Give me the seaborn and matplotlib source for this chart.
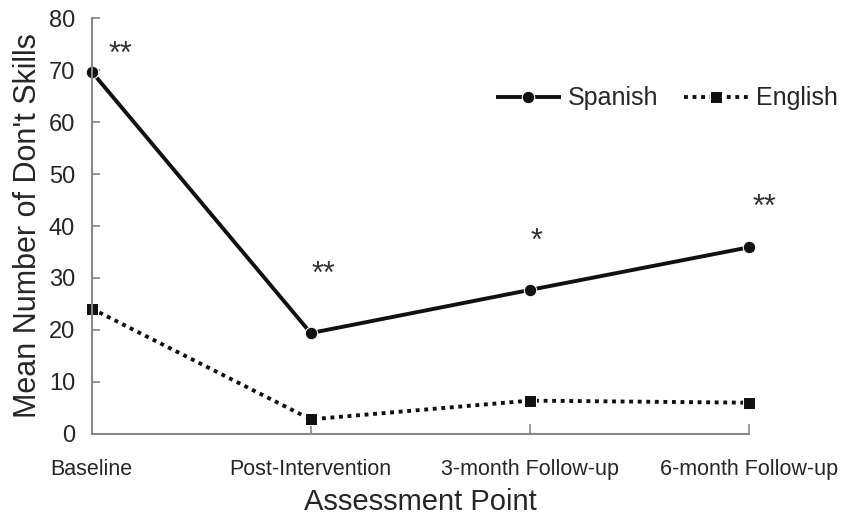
import pandas as pd
import numpy as np
import matplotlib.pyplot as plt
import seaborn as sns

sns.set_style("white")
plt.rcParams['font.family'] = ['Liberation Sans', 'DejaVu Sans']

# データ
assessment_points = ["Baseline", "Post-Intervention", "3-month Follow-up", "6-month Follow-up"]
spanish_means = [69.7, 19.4, 27.7, 35.9]
english_means = [24.1, 2.8, 6.4, 6.0]
significance = ["**", "**", "*", "**"]
sig_heights = [73.0, 30.5, 37.0, 43.5]
sig_offsets = [0.13, 0.06, 0.03, 0.07]

df = pd.DataFrame({
    "point": list(range(len(assessment_points))) * 2,
    "mean": spanish_means + english_means,
    "group": ["Spanish"] * 4 + ["English"] * 4,
})

fig = plt.figure(figsize=(8.49, 5.19), dpi=100)
ax = fig.add_axes([0.108, 0.164, 0.774, 0.801])

sns.lineplot(data=df, x="point", y="mean", hue="group", style="group",
             hue_order=["Spanish", "English"], style_order=["Spanish", "English"],
             palette=["#111111", "#111111"], dashes=[(1, 0), (1, 1.2)],
             markers=["o", "s"], markersize=9, linewidth=2.8, ax=ax,
             clip_on=False, legend=True)

for i, s in enumerate(significance):
    ax.text(i + sig_offsets[i], sig_heights[i], s,
            ha="center", va="center", fontsize=22, color="#333333")

ax.set_xlim(0, 3)
ax.set_ylim(0, 80)
ax.set_xticks(range(len(assessment_points)))
ax.set_xticklabels(assessment_points, fontsize=15.5)
ax.set_yticks(range(0, 81, 10))
ax.tick_params(axis="y", left=True, labelsize=17, direction="in", length=6,
               width=1.2, color="#888888", pad=12)
ax.tick_params(axis="x", bottom=True, direction="in", length=7,
               width=1.2, color="#888888", pad=18)
ax.set_xlabel("Assessment Point", fontsize=21, labelpad=6)
ax.set_ylabel("Mean Number of Don't Skills", fontsize=22, labelpad=4)

for side in ["top", "right"]:
    ax.spines[side].set_visible(False)
for side in ["left", "bottom"]:
    ax.spines[side].set_color("#888888")
    ax.spines[side].set_linewidth(1.5)

leg = ax.legend(loc="upper right", bbox_to_anchor=(1.17, 0.89), ncol=2, frameon=False,
                fontsize=18, handlelength=2.6, columnspacing=1.0, handletextpad=0.3)

plt.savefig("out.png", dpi=100)
plt.close()
